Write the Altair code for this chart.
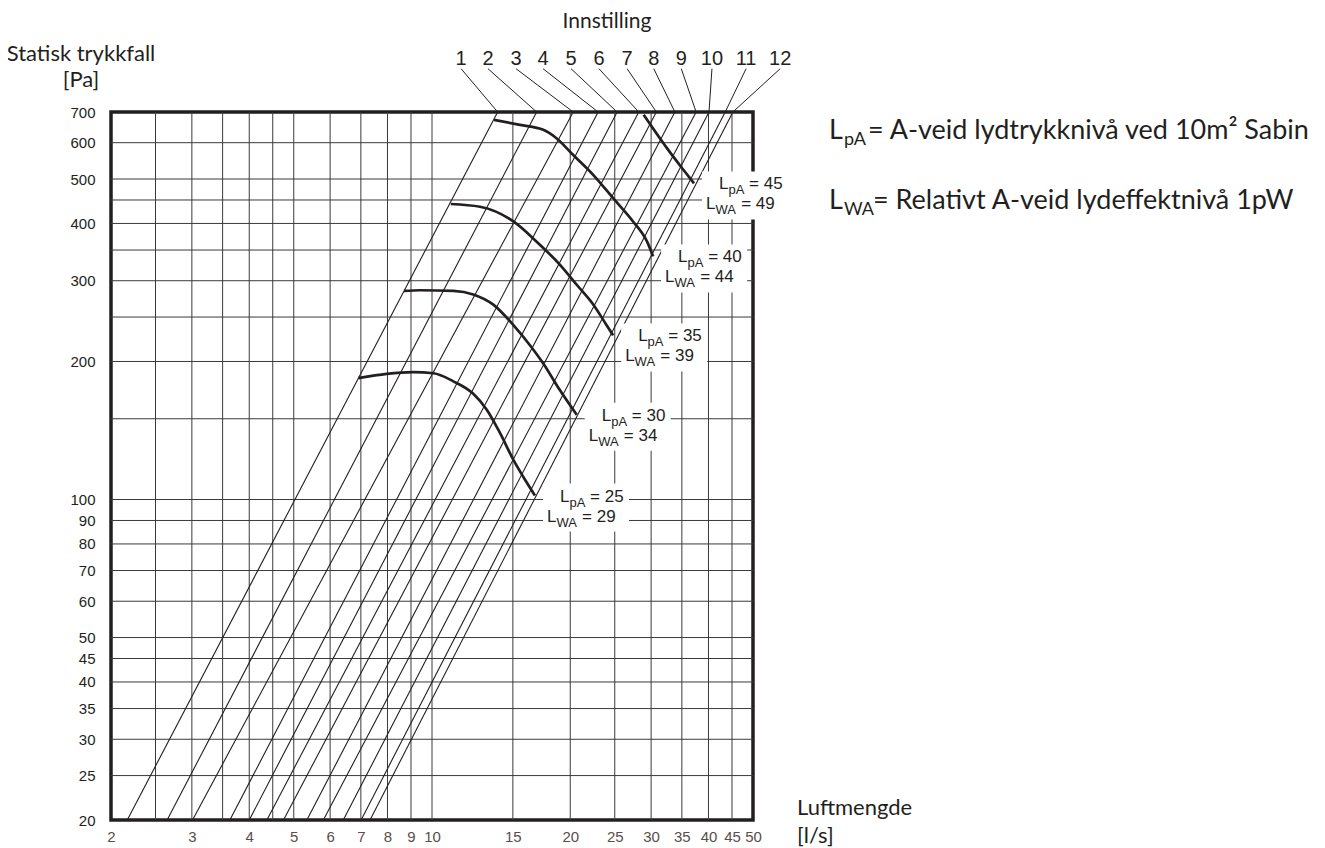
import altair as alt
import pandas as pd

# ------------------------------------------------------------------ data
SETTINGS = [1, 2, 3, 4, 5, 6, 7, 8, 9, 10, 11, 12]
# airflow [l/s] where each setting line crosses 20 Pa and 700 Pa
Q_AT_20PA = [2.17, 2.65, 3.01, 3.63, 4.00, 4.37, 4.75, 5.34, 5.80, 6.41, 7.01, 7.33]
Q_AT_700PA = [13.9, 16.9, 20.3, 23.0, 25.3, 28.2, 30.8, 33.8, 37.6, 40.1, 43.5, 45.2]
# where the setting numbers sit above the chart (airflow units)
SETTING_LABEL_Q = [11.57, 13.24, 15.24, 17.45, 20.08, 23.1, 26.6, 30.4, 34.9, 40.7, 48.3, 57.3]
SETTING_LABEL_P = 870

LPA_LEVELS = [25, 30, 35, 40, 45]
LWA_LEVELS = [29, 34, 39, 44, 49]
LPA25_Q = [6.91, 7.97, 9.11, 10.07, 11.13, 12.3, 13.16, 14.07, 15.04, 15.81, 16.76]
LPA25_P = [184, 188, 189.5, 188.5, 181, 170, 157, 139.5, 122, 112, 102]
LPA30_Q = [8.69, 9.42, 11.13, 12.3, 13.6, 15.04, 16.34, 17.47, 19.0, 20.66]
LPA30_P = [285, 286, 285, 280, 266, 240, 217, 198, 173, 153]
LPA35_Q = [10.99, 12.72, 15.04, 16.9, 19.0, 20.66, 22.46, 24.0, 24.8]
LPA35_P = [441, 435, 404, 365, 325, 294, 266, 240, 228]
LPA40_Q = [13.65, 15.55, 17.47, 18.69, 20.3, 22.46, 24.8, 27.4, 29.4, 30.3]
LPA40_P = [673, 656, 640, 613, 564, 510, 454, 404, 365, 339]
LPA45_Q = [28.9, 32.5, 35.3, 37.2]
LPA45_P = [690, 583, 523, 489]
CURVES_Q = [LPA25_Q, LPA30_Q, LPA35_Q, LPA40_Q, LPA45_Q]
CURVES_P = [LPA25_P, LPA30_P, LPA35_P, LPA40_P, LPA45_P]

X_GRID = [2.5, 3, 3.5, 4, 4.5, 5, 6, 7, 8, 9, 10, 15, 20, 25, 30, 35, 40, 45]
X_LABELS = [2, 3, 4, 5, 6, 7, 8, 9, 10, 15, 20, 25, 30, 35, 40, 45, 50]
Y_GRID = [25, 30, 35, 40, 45, 50, 60, 70, 80, 90, 100, 150, 200, 250, 300, 350, 400, 450, 500, 600]
Y_LABELS = [20, 25, 30, 35, 40, 45, 50, 60, 70, 80, 90, 100, 200, 300, 400, 500, 600, 700]

Y_TITLE = ["Statisk trykkfall", "[Pa]"]
X_TITLE = ["Luftmengde", "[l/s]"]
TOP_TITLE = "Innstilling"
LEGEND_REST = ["= A-veid lydtrykknivå ved 10m² Sabin", "= Relativt A-veid lydeffektnivå 1pW"]

# ------------------------------------------------------------------ layout / style
W, H = 642, 708
INK = "#231f20"
GRID = "#3a3a3a"
SANS = "Liberation Sans"
HUM = "Lato"

xs = alt.Scale(type="log", domain=[2, 50], nice=False)
ys = alt.Scale(type="log", domain=[20, 700], nice=False)

AX = alt.Axis(
    values=X_LABELS, title=None, grid=False, ticks=False, tickSize=0, domain=False,
    labelFlush=False, labelOverlap=False, labelFont=SANS, labelFontSize=15,
    labelColor="#5a4d4b", labelPadding=9, format="d")
AY = alt.Axis(
    values=Y_LABELS, title=None, grid=False, ticks=False, tickSize=0, domain=False,
    labelFlush=False, labelOverlap=False, labelFont=SANS, labelFontSize=15,
    labelColor=INK, labelPadding=16, format="d")

# tables
lines_df = pd.DataFrame(
    [{"setting": s, "q": q, "p": 20} for s, q in zip(SETTINGS, Q_AT_20PA)]
    + [{"setting": s, "q": q, "p": 700} for s, q in zip(SETTINGS, Q_AT_700PA)]
)
leader_df = pd.DataFrame(
    [{"setting": s, "q": q, "p": 700} for s, q in zip(SETTINGS, Q_AT_700PA)]
    + [{"setting": s, "q": q, "p": SETTING_LABEL_P} for s, q in zip(SETTINGS, SETTING_LABEL_Q)]
)
num_df = pd.DataFrame({"setting": [str(s) for s in SETTINGS], "q": SETTING_LABEL_Q,
                       "p": [SETTING_LABEL_P] * len(SETTINGS)})
curve_rows = []
for lvl, qs, ps in zip(LPA_LEVELS, CURVES_Q, CURVES_P):
    for i, (q, p) in enumerate(zip(qs, ps)):
        curve_rows.append({"level": lvl, "order": i, "q": q, "p": p})
curves_df = pd.DataFrame(curve_rows)
ends_df = pd.DataFrame({
    "lpa": [f"= {v}" for v in LPA_LEVELS],
    "lwa": [f"= {v}" for v in LWA_LEVELS],
    "q": [qs[-1] for qs in CURVES_Q],
    "p": [ps[-1] for ps in CURVES_P],
})

X = lambda: alt.X("q:Q", scale=xs, axis=AX)
Y = lambda: alt.Y("p:Q", scale=ys, axis=AY)

vgrid = alt.Chart(pd.DataFrame({"q": X_GRID})).mark_rule(color=GRID, strokeWidth=1).encode(
    x=X(), y=alt.value(0), y2=alt.value(H))
hgrid = alt.Chart(pd.DataFrame({"p": Y_GRID})).mark_rule(color=GRID, strokeWidth=1).encode(
    y=Y(), x=alt.value(0), x2=alt.value(W))

setting_lines = alt.Chart(lines_df).mark_line(color=INK, strokeWidth=1.1).encode(
    x=X(), y=Y(), detail="setting:N")
leaders = alt.Chart(leader_df).mark_line(color=INK, strokeWidth=1).encode(
    x=X(), y=Y(), detail="setting:N")
numbers = alt.Chart(num_df).mark_text(
    font=SANS, fontSize=20, color=INK, baseline="alphabetic", align="center", dy=-4
).encode(x=X(), y=Y(), text="setting:N")

curves = alt.Chart(curves_df).mark_line(
    color=INK, strokeWidth=2.7, interpolate="monotone"
).encode(x=X(), y=Y(), detail="level:N", order="order:Q")

boxes = alt.Chart(ends_df).mark_rect(
    fill="white", xOffset=8, x2Offset=94, yOffset=-12, y2Offset=36
).encode(x=X(), x2=alt.X2("q:Q"), y=Y(), y2=alt.Y2("p:Q"))

F, S = 17, 13
wL, wPA, wWA, wSp = 0.556 * F, 1.223 * S, 1.611 * S, 0.278 * F


def piece(text_value, field, dx, dy, size):
    enc = dict(x=X(), y=Y())
    if field:
        enc["text"] = alt.Text(f"{field}:N")
    else:
        enc["text"] = alt.value(text_value)
    return alt.Chart(ends_df).mark_text(
        font=SANS, fontSize=size, color=INK, align="left", baseline="middle", dx=dx, dy=dy
    ).encode(**enc)


dxa, dya = 25, 1
dxw, dyw = 12, 21
label_layers = [
    piece("L", None, dxa, dya, F),
    piece("pA", None, dxa + wL, dya + 6, S),
    piece(None, "lpa", dxa + wL + wPA + wSp, dya, F),
    piece("L", None, dxw, dyw, F),
    piece("WA", None, dxw + wL, dyw + 6, S),
    piece(None, "lwa", dxw + wL + wWA + wSp, dyw, F),
]

one = pd.DataFrame({"k": [0]})


def free_text(txt, px, py, size, font=HUM, align="center"):
    return alt.Chart(one).mark_text(
        font=font, fontSize=size, color=INK, align=align, baseline="middle"
    ).encode(x=alt.value(px), y=alt.value(py), text=alt.value(txt))


TS = 22
titles = [
    free_text(Y_TITLE[0], -30, -58, TS),
    free_text(Y_TITLE[1], -30, -32, TS),
    free_text(TOP_TITLE, 496, -90, 21),
    free_text(X_TITLE[0], 686, 696, TS, align="left"),
    free_text(X_TITLE[1], 686, 724, TS, align="left"),
]

LF, LS = 27, 18
LX = 718
legend = [
    free_text("L", LX, 19, LF, align="left"),
    free_text("pA", LX + 15, 28, LS, align="left"),
    free_text(LEGEND_REST[0], LX + 39, 19, LF, align="left"),
    free_text("L", LX, 89, LF, align="left"),
    free_text("WA", LX + 15, 98, LS, align="left"),
    free_text(LEGEND_REST[1], LX + 44, 89, LF, align="left"),
]

chart = alt.layer(
    vgrid, hgrid, setting_lines, curves, leaders, numbers, boxes,
    *label_layers, *titles, *legend
).properties(
    width=W, height=H,
    autosize=alt.AutoSizeParams(type="none"),
    padding={"left": 103, "top": 104, "right": 555, "bottom": 34},
).configure_view(stroke=INK, strokeWidth=3.5)

chart.save("out.html", embed_options={"renderer": "svg", "actions": False})
